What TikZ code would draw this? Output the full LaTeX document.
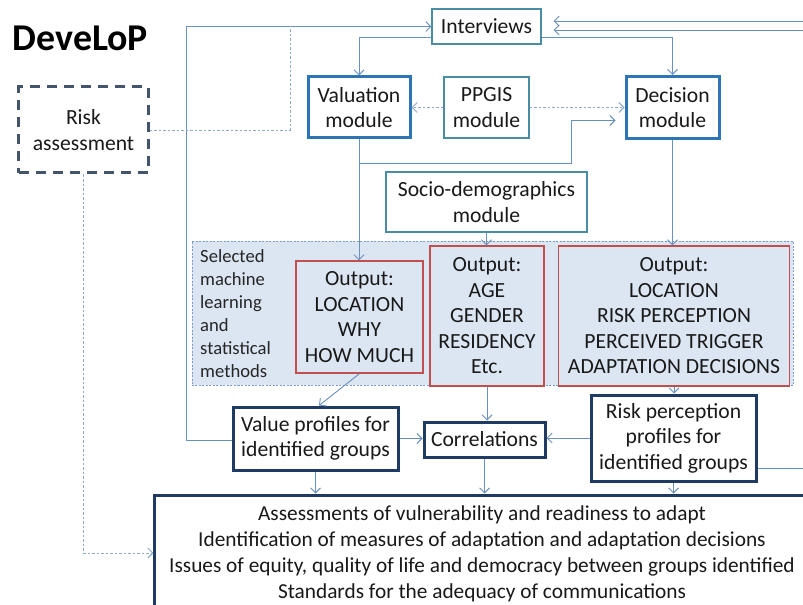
\documentclass[tikz,border=0pt]{standalone}
\usepackage{fontspec}
\setmainfont{Carlito}
\usetikzlibrary{arrows.meta,positioning}
\definecolor{linkblue}{HTML}{6A90BE}
\definecolor{dotblue}{HTML}{8DA9CB}
\definecolor{plainteal}{HTML}{4A8CA6}
\definecolor{modblue}{HTML}{2E75B6}
\definecolor{navy}{HTML}{1F3A63}
\definecolor{slate}{HTML}{44546A}
\definecolor{groupfill}{HTML}{DCE6F2}
\definecolor{groupline}{HTML}{7C9DC9}
\definecolor{outred}{HTML}{C0504D}
\tikzset{
  plainbox/.style={rectangle,draw=plainteal,line width=1.2bp,fill=white,align=center,inner sep=0pt,text=black!90,font=\fontsize{21.7}{25.6}\selectfont},
  modbox/.style={plainbox,draw=modblue,line width=3bp},
  profbox/.style={plainbox,draw=navy,line width=3bp},
  outbox/.style={plainbox,draw=outred,line width=1.3bp,fill=groupfill},
  riskbox/.style={plainbox,draw=slate,line width=3bp,dash pattern=on 10bp off 7bp},
  groupbox/.style={rectangle,draw=groupline,fill=groupfill,line width=0.9bp,dash pattern=on 2bp off 1.5bp,inner sep=0pt},
  conn/.style={line width=0.9bp,linkblue},
  arrow/.style={conn,-{Straight Barb[length=5bp,width=10bp]}},
  dotlink/.style={line width=0.9bp,dotblue,dash pattern=on 2.5bp off 2bp},
  dotarrow/.style={dotlink,-{Straight Barb[length=5bp,width=10bp]}},
  methodnote/.style={font=\fontsize{18.7}{23}\selectfont,text=black!85,align=left,anchor=west,inner sep=0pt}
}
\begin{document}
\begin{tikzpicture}[x=1bp,y=-1bp]
  \clip (0,0) rectangle (803,605);
  \fill[white] (0,0) rectangle (803,605);
  \node[font=\fontsize{38}{44}\selectfont\bfseries,inner sep=0pt] (title) at (80.5,38) {DeveLoP};
  \node[riskbox,minimum width=129bp,minimum height=86bp] (risk) at (83.5,130) {Risk\\assessment};
  \node[plainbox,minimum width=109bp,minimum height=35bp] (intv) at (486.5,26.5) {Interviews};
  \node[modbox,minimum width=102bp,minimum height=61bp] (val) at (359,107.5) {Valuation\\module};
  \node[plainbox,minimum width=85bp,minimum height=61bp] (ppgis) at (486.5,107.5) {PPGIS\\module};
  \node[modbox,minimum width=93bp,minimum height=62bp] (dec) at (672.5,107.5) {Decision\\module};
  \node[plainbox,minimum width=201bp,minimum height=60bp] (socio) at (486.5,202) {Socio-demographics\\module};
  \node[groupbox,minimum width=601bp,minimum height=144bp] (group) at (492.5,313) {};
  \node[methodnote] (methods) at (200,313.5) {Selected\\machine\\learning\\and\\statistical\\methods};
  \node[outbox,minimum width=127bp,minimum height=112bp] (out1) at (359.5,317) {Output:\\LOCATION\\WHY\\HOW MUCH};
  \node[outbox,minimum width=114bp,minimum height=140bp] (out2) at (487,316) {Output:\\AGE\\GENDER\\RESIDENCY\\Etc.};
  \node[outbox,minimum width=231bp,minimum height=140bp] (out3) at (674,316) {Output:\\LOCATION\\RISK PERCEPTION\\PERCEIVED TRIGGER\\ADAPTATION DECISIONS};
  \node[profbox,minimum width=165bp,minimum height=63bp] (vprof) at (315.5,438.5) {Value profiles for\\identified groups};
  \node[profbox,minimum width=121bp,minimum height=35bp] (corr) at (484.5,439.5) {Correlations};
  \node[profbox,minimum width=165bp,minimum height=86bp] (rprof) at (673.5,438) {Risk perception\\profiles for\\identified groups};
  \node[profbox,minimum width=654bp,minimum height=118bp,font=\fontsize{21.4}{26}\selectfont] (report) at (482,554) {Assessments of vulnerability and readiness to adapt\\Identification of measures of adaptation and adaptation decisions\\Issues of equity, quality of life and democracy between groups identified\\Standards for the adequacy of communications};
  \coordinate (loopx) at (186,440);
  \coordinate (riskup) at (290,26.5);
  \coordinate (elbow) at (571,163);
  \coordinate (rightlink) at (803,468);
  \coordinate (rightin1) at (803,21);
  \coordinate (rightin2) at (803,30);
  \draw[arrow] (vprof.west |- loopx) -- (loopx) |- (intv.west);
  \draw[dotlink] (risk.east) -| (riskup);
  \draw[dotarrow] (risk.south) |- ([yshift=1bp]report.west);
  \draw[arrow] ([yshift=-10.5bp]intv.west) -| (val);
  \draw[arrow] ([yshift=-10.5bp]intv.east) -| (dec);
  \draw[arrow,shorten >=12bp] (rightin1) -- (rightin1 -| intv.east);
  \draw[arrow,shorten >=12bp] (rightin2) -- (rightin2 -| intv.east);
  \draw[dotarrow] (ppgis.west) -- (val.east);
  \draw[dotarrow] (ppgis.east) -- (ppgis.east -| dec.west);
  \draw[arrow] (val.south) -- (val.south |- out1.north);
  \draw[arrow,shorten >=9bp] (val.south |- elbow) -- (elbow) |- ([yshift=-13bp]dec.west);
  \draw[arrow] (socio.south) -- (socio.south |- out2.north);
  \draw[arrow] (dec.south) -- (dec.south |- out3.north);
  \draw[arrow] (out1.south) -- ([xshift=3.5bp]vprof.north);
  \draw[arrow] (out2.south) -- (out2.south |- corr.north);
  \draw[arrow] (out3.south) -- (out3.south |- rprof.north);
  \draw[arrow] (vprof.east) -- (vprof.east -| corr.west);
  \draw[arrow] (rprof.west) -- (rprof.west -| corr.east);
  \draw[arrow] (vprof.south) -- (vprof.south |- report.north);
  \draw[arrow] (corr.south) -- (corr.south |- report.north);
  \draw[arrow] (rprof.south) -- (rprof.south |- report.north);
  \draw[conn] (rprof.east |- rightlink) -- (rightlink);
\end{tikzpicture}
\end{document}
